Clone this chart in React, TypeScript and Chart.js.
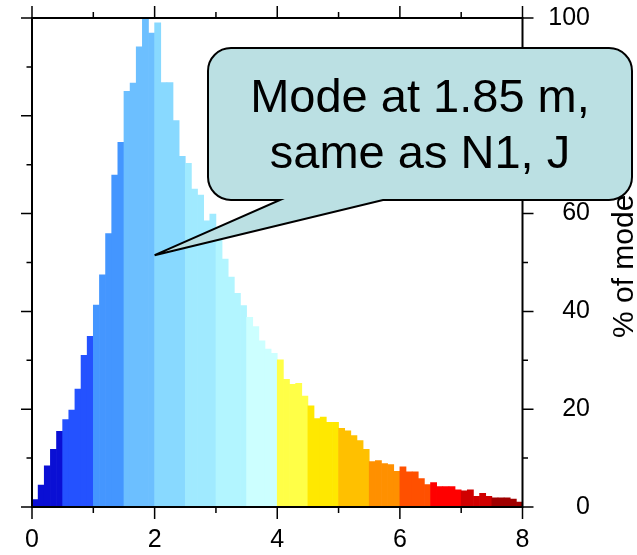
import React, { useEffect, useRef } from "react";
import { Chart, registerables } from "chart.js";

Chart.register(...registerables);

// ---- data ----
const binStarts: string[] = Array.from({ length: 80 }, (_, i) => (i / 10).toFixed(1));

const pctOfMode: number[] = [
  1.5, 4.5, 8.4, 11.8, 15.5, 17.9, 19.8, 24.1, 31.0, 34.9,
  41.3, 47.5, 55.9, 67.9, 74.6, 85.0, 86.7, 94.1, 100, 96.9,
  99.0, 86.8, 86.8, 79.0, 71.7, 70.3, 65.0, 63.8, 58.5, 59.9,
  56.0, 50.7, 47.0, 43.7, 41.2, 38.8, 36.9, 34.0, 32.3, 31.4,
  30.1, 26.1, 25.1, 25.3, 22.7, 20.7, 18.1, 18.4, 17.3, 17.3,
  16.1, 15.6, 14.6, 13.6, 11.8, 9.3, 9.5, 8.9, 8.7, 7.3,
  8.2, 7.2, 7.2, 5.8, 4.6, 5.0, 4.2, 4.2, 4.2, 3.5,
  3.3, 3.5, 2.2, 2.8, 2.2, 1.9, 1.9, 1.9, 1.6, 1.0,
];

const bandColors: string[] = [
  "#0a0fd4", "#2452ff", "#4496ff", "#6cbfff",
  "#88d9ff", "#a0eaff", "#b2f5ff", "#ccffff",
  "#ffff47", "#ffe800", "#ffc000", "#ff9000",
  "#ff5000", "#ff0000", "#d00000", "#a00000",
];

const xLabelTicks: number[] = [0, 2, 4, 6, 8];
const xAllTicks: number[] = [0, 1, 2, 3, 4, 5, 6, 7, 8];
const yLabelTicks: number[] = [0, 20, 40, 60, 80, 100];
const yAllTicks: number[] = [0, 10, 20, 30, 40, 50, 60, 70, 80, 90, 100];

const yTitle = "% of mode";
const calloutLines: string[] = ["Mode at 1.85 m,", "same as N1, J"];
const calloutTip = { x: 2.0, y: 51.5 };

const FONT = '"Liberation Sans", Arial, Helvetica, sans-serif';

const zeroPadding = (scale: any) => {
  scale.paddingTop = 0;
  scale.paddingBottom = 0;
  scale.paddingLeft = 0;
  scale.paddingRight = 0;
};

const framePlugin = {
  id: "frameAndCallout",
  afterDatasetsDraw(chart: any) {
    const { ctx, chartArea } = chart;
    const { left, right, top, bottom } = chartArea;
    const xs = chart.scales.xb;
    const ys = chart.scales.y;
    ctx.save();
    ctx.strokeStyle = "#000";
    ctx.lineWidth = 2;
    ctx.strokeRect(left, top, right - left, bottom - top);

    ctx.lineWidth = 1.5;
    ctx.beginPath();
    for (const v of xAllTicks) {
      const px = xs.getPixelForValue(v);
      const len = xLabelTicks.includes(v) ? 12 : 6;
      ctx.moveTo(px, bottom);
      ctx.lineTo(px, bottom + len);
      ctx.moveTo(px, top);
      ctx.lineTo(px, top - len);
    }
    for (const v of yAllTicks) {
      const py = ys.getPixelForValue(v);
      const len = yLabelTicks.includes(v) ? 11 : 5.5;
      ctx.moveTo(left, py);
      ctx.lineTo(left - len, py);
      ctx.moveTo(right, py);
      ctx.lineTo(right + len, py);
    }
    ctx.stroke();

    // rotated axis title (reading upward)
    ctx.save();
    ctx.translate(633, 338);
    ctx.rotate(-Math.PI / 2);
    ctx.fillStyle = "#000";
    ctx.font = `30px ${FONT}`;
    ctx.textAlign = "left";
    ctx.textBaseline = "alphabetic";
    ctx.fillText(yTitle, 0, 0);
    ctx.restore();
    ctx.restore();
  },
  afterDraw(chart: any) {
    const { ctx } = chart;
    const xs = chart.scales.xb;
    const ys = chart.scales.y;
    const tipX = xs.getPixelForValue(calloutTip.x);
    const tipY = ys.getPixelForValue(calloutTip.y);
    const bx0 = 208, by0 = 48, bx1 = 632, by1 = 200, r = 23;
    const baseL = 280, baseR = 383;
    ctx.save();
    ctx.beginPath();
    ctx.moveTo(bx0 + r, by0);
    ctx.lineTo(bx1 - r, by0);
    ctx.arcTo(bx1, by0, bx1, by0 + r, r);
    ctx.lineTo(bx1, by1 - r);
    ctx.arcTo(bx1, by1, bx1 - r, by1, r);
    ctx.lineTo(baseR, by1);
    ctx.lineTo(tipX, tipY);
    ctx.lineTo(baseL, by1);
    ctx.lineTo(bx0 + r, by1);
    ctx.arcTo(bx0, by1, bx0, by1 - r, r);
    ctx.lineTo(bx0, by0 + r);
    ctx.arcTo(bx0, by0, bx0 + r, by0, r);
    ctx.closePath();
    ctx.fillStyle = "#bbe0e3";
    ctx.fill();
    ctx.strokeStyle = "#000";
    ctx.lineWidth = 2;
    ctx.lineJoin = "miter";
    ctx.stroke();

    ctx.fillStyle = "#000";
    ctx.font = `47px ${FONT}`;
    ctx.textAlign = "center";
    ctx.textBaseline = "alphabetic";
    const cx = (bx0 + bx1) / 2;
    ctx.fillText(calloutLines[0], cx, 112);
    ctx.fillText(calloutLines[1], cx, 168);
    ctx.restore();
  },
};

export default function App() {
  const canvasRef = useRef<HTMLCanvasElement | null>(null);

  useEffect(() => {
    const canvas = canvasRef.current;
    if (!canvas) return;
    const chart = new Chart(canvas, {
      type: "bar",
      data: {
        labels: binStarts,
        datasets: [
          {
            data: pctOfMode,
            backgroundColor: pctOfMode.map((_, i) => bandColors[Math.floor(i / 5)]),
            borderWidth: 0,
            barPercentage: 1,
            categoryPercentage: 1,
            xAxisID: "x",
            yAxisID: "y",
          },
        ],
      },
      options: {
        responsive: false,
        animation: false,
        devicePixelRatio: 1,
        layout: { padding: { left: 32, top: 18, right: 47, bottom: 0 } },
        plugins: {
          legend: { display: false },
          tooltip: { enabled: false },
          title: { display: false },
        },
        scales: {
          x: {
            type: "category",
            display: false,
          },
          xb: {
            type: "linear",
            position: "bottom",
            min: 0,
            max: 8,
            offset: false,
            afterBuildTicks: (scale: any) => {
              scale.ticks = xLabelTicks.map((v) => ({ value: v }));
            },
            afterFit: (scale: any) => {
              scale.height = 48;
              zeroPadding(scale);
            },
            grid: { display: false, drawTicks: false, offset: false },
            border: { display: false },
            ticks: {
              color: "#000",
              font: { family: FONT, size: 25 },
              padding: 18,
              maxRotation: 0,
              autoSkip: false,
              callback: (v: any) => String(v),
            },
          },
          y: {
            type: "linear",
            position: "right",
            min: 0,
            max: 100,
            afterBuildTicks: (scale: any) => {
              scale.ticks = yLabelTicks.map((v) => ({ value: v }));
            },
            afterFit: (scale: any) => {
              scale.width = 67.5;
              zeroPadding(scale);
            },
            grid: { display: false, drawTicks: false },
            border: { display: false },
            ticks: {
              color: "#000",
              font: { family: FONT, size: 25 },
              padding: 26,
              crossAlign: "far",
              autoSkip: false,
              callback: (v: any) => String(v),
            },
          },
        },
      },
      plugins: [framePlugin],
    });
    return () => chart.destroy();
  }, []);

  return (
    <div style={{ position: "absolute", left: 0, top: 0, width: 637, height: 555, background: "#fff" }}>
      <canvas ref={canvasRef} width={637} height={555} style={{ display: "block", width: 637, height: 555 }} />
    </div>
  );
}
